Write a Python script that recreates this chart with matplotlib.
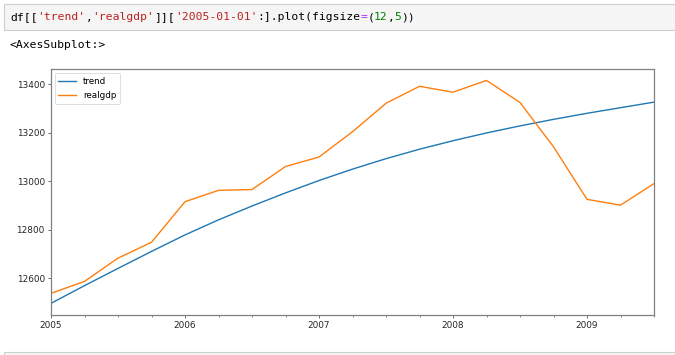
import matplotlib
matplotlib.use("Agg")
import matplotlib.pyplot as plt
from matplotlib.patches import Rectangle
from matplotlib.ticker import FixedLocator, FixedFormatter

# ---- data (quarterly, 2005Q1 .. 2009Q3) ----
quarters = ["2005Q1", "2005Q2", "2005Q3", "2005Q4",
            "2006Q1", "2006Q2", "2006Q3", "2006Q4",
            "2007Q1", "2007Q2", "2007Q3", "2007Q4",
            "2008Q1", "2008Q2", "2008Q3", "2008Q4",
            "2009Q1", "2009Q2", "2009Q3"]
trend = [12497, 12570, 12641, 12711, 12779, 12841, 12898, 12952,
         13003, 13050, 13093, 13132, 13167, 13199, 13228, 13255,
         13280, 13303, 13326]
realgdp = [12538.2, 12587.5, 12683.2, 12748.7, 12915.9, 12962.5, 12965.9,
           13060.7, 13099.9, 13204.0, 13321.1, 13391.2, 13366.9, 13415.3,
           13324.6, 13141.9, 12925.4, 12901.5, 12990.3]
year_labels = ["2005", "2006", "2007", "2008", "2009"]
ytick_values = [12600, 12800, 13000, 13200, 13400]

W, H = 675, 355
fig = plt.figure(figsize=(W / 100, H / 100), dpi=100)
fig.patch.set_facecolor("white")

def fx(px):
    return px / W

def fy(py):
    return 1 - py / H

# ---- code cell ----
fig.patches.append(Rectangle((fx(4), fy(30)), fx(W + 10) - fx(4), fy(4) - fy(30),
                             transform=fig.transFigure, facecolor="#f5f5f5",
                             edgecolor="#cfcfcf", linewidth=0.8))
segments = [("df[[", "black"), ("'trend'", "#ba2121"), (",", "black"),
            ("'realgdp'", "#ba2121"), ("]][", "black"), ("'2005-01-01'", "#ba2121"),
            (":].plot(figsize", "black"), ("=", "#aa22ff"), ("(", "black"),
            ("12", "#008000"), (",", "black"), ("5", "#008000"), ("))", "black")]
mono = "DejaVu Sans Mono"
fsize = 8.2
char_w = 6.87
x = 10
for s, c in segments:
    fig.text(fx(x), fy(17.5), s, color=c, family=mono, fontsize=fsize,
             ha="left", va="center")
    x += char_w * len(s)

fig.text(fx(10), fy(45), "<AxesSubplot:>", color="black", family=mono,
         fontsize=fsize, ha="left", va="center")

# ---- bottom cell edge ----
fig.patches.append(Rectangle((fx(4), fy(H + 10)), fx(W + 10) - fx(4), fy(351.7) - fy(H + 10),
                             transform=fig.transFigure, facecolor="#f5f5f5",
                             edgecolor="#cfcfcf", linewidth=0.8))

# ---- axes ----
ax = fig.add_axes([fx(51), fy(314.5), fx(654) - fx(51), fy(69.3) - fy(314.5)])
xs = list(range(len(quarters)))
ax.plot(xs, trend, color="#1f77b4", linewidth=1.0, label="trend")
ax.plot(xs, realgdp, color="#ff7f0e", linewidth=1.0, label="realgdp")
ax.set_xlim(0, len(quarters) - 1)
lo = min(min(trend), min(realgdp))
hi = max(max(trend), max(realgdp))
pad = (hi - lo) * 0.05
ax.set_ylim(lo - pad, hi + pad)

major = [i for i, q in enumerate(quarters) if q.endswith("Q1")]
ax.xaxis.set_major_locator(FixedLocator(major))
ax.xaxis.set_major_formatter(FixedFormatter(year_labels))
ax.xaxis.set_minor_locator(FixedLocator(xs))
ax.set_yticks(ytick_values)
ax.set_yticklabels([str(v) for v in ytick_values])

for sp in ax.spines.values():
    sp.set_color("#808080")
    sp.set_linewidth(0.9)
ax.tick_params(axis="both", which="major", labelsize=6.4, length=2.5, width=0.6,
               color="#555555", labelcolor="#262626", pad=2)
ax.tick_params(axis="x", which="minor", length=1.5, width=0.5, color="#555555")

leg = ax.legend(loc="upper left", fontsize=6.3, frameon=True, handlelength=2.0,
                borderpad=0.45, labelspacing=0.6, handletextpad=0.8,
                borderaxespad=0.4, fancybox=True)
leg.get_frame().set_edgecolor("#d0d0d0")
leg.get_frame().set_linewidth(0.6)

fig.savefig("out.png", dpi=100)
